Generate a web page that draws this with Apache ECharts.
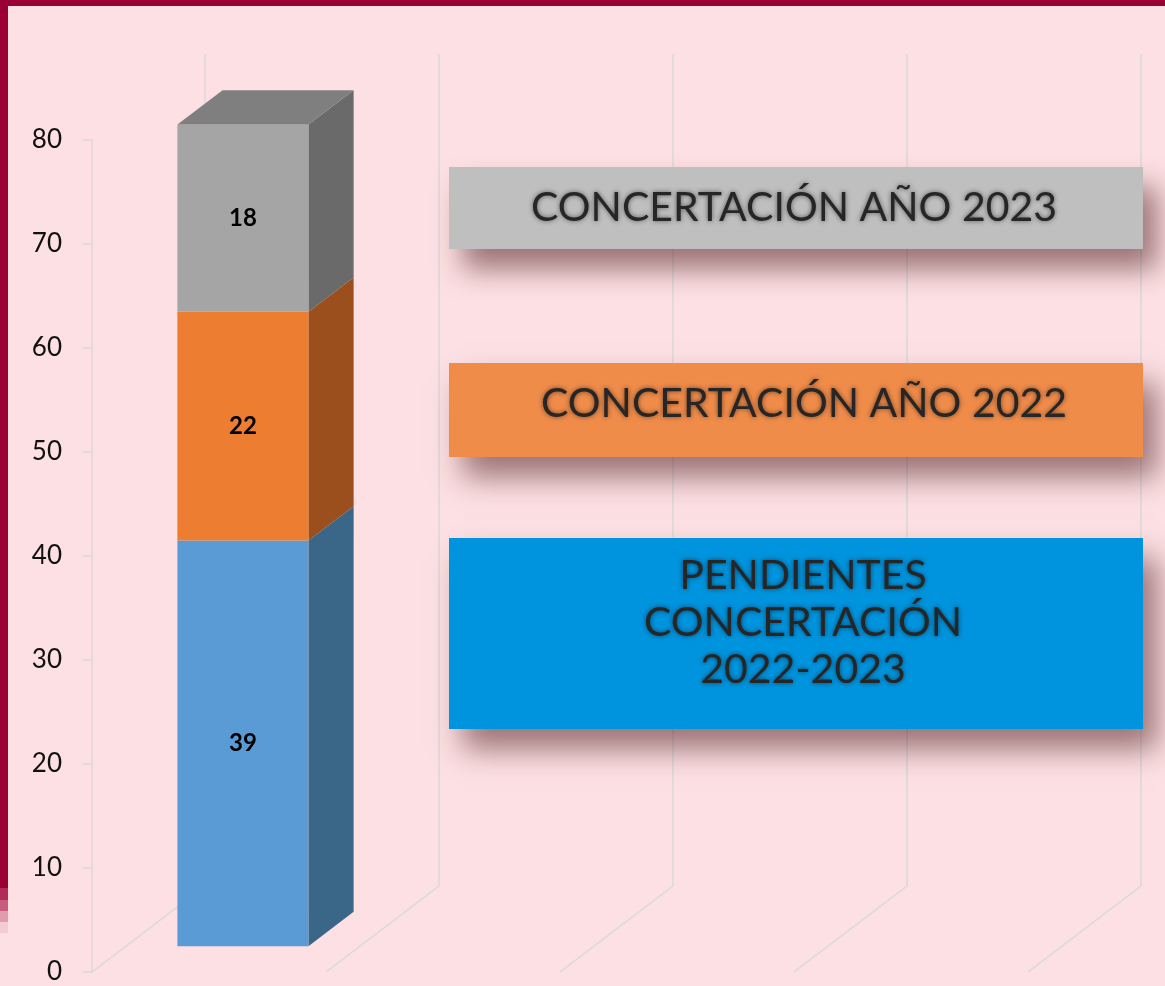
<!DOCTYPE html>
<html>
<head>
<meta charset="utf-8">
<script src="https://cdn.jsdelivr.net/npm/echarts@6/dist/echarts.min.js"></script>
<style>
html, body { margin: 0; padding: 0; background: #fde0e3; }
#main { width: 1165px; height: 986px; }
</style>
</head>
<body>
<div id="main"></div>
<script>
// datos
const categories = ['Concertación', '', '', ''];
const pendientes = [39];
const anio2022 = [22];
const anio2023 = [18];
const yTicks = [0, 10, 20, 30, 40, 50, 60, 70, 80];
const legendNames = ['CONCERTACIÓN AÑO 2023', 'CONCERTACIÓN AÑO 2022', 'PENDIENTES\nCONCERTACIÓN\n2022-2023'];

const DEPTH = [113, -86];   // profundidad del suelo en px
const BAR_FRONT = 0.3, BAR_BACK = 0.7, BAR_W = 0.56;
const FONT = 'Lato, "Open Sans", sans-serif';

const chart = echarts.init(document.getElementById('main'));

function boxRenderer(cols, withTop) {
    return function (params, api) {
        const lo = api.coord([api.value(0), api.value(1)]);
        const hi = api.coord([api.value(0), api.value(2)]);
        const band = api.size([1, 0])[0];
        const w = band * BAR_W;
        const x0 = lo[0] - w / 2 + DEPTH[0] * BAR_FRONT;
        const x1 = x0 + w;
        const yb = lo[1] + DEPTH[1] * BAR_FRONT;
        const yt = hi[1] + DEPTH[1] * BAR_FRONT;
        const ex = DEPTH[0] * (BAR_BACK - BAR_FRONT);
        const ey = DEPTH[1] * (BAR_BACK - BAR_FRONT);
        const children = [
            { type: 'polygon', shape: { points: [[x1, yb], [x1 + ex, yb + ey], [x1 + ex, yt + ey], [x1, yt]] }, style: { fill: cols.side } },
            { type: 'rect', shape: { x: x0, y: yt, width: w, height: yb - yt }, style: { fill: cols.front } }
        ];
        if (withTop) {
            children.push({ type: 'polygon', shape: { points: [[x0, yt], [x1, yt], [x1 + ex, yt + ey], [x0 + ex, yt + ey]] }, style: { fill: cols.top } });
        }
        children.push({
            type: 'text', x: (x0 + x1) / 2, y: (yb + yt) / 2,
            style: { text: String(api.value(3)), fill: '#000', font: 'bold 24px ' + FONT, align: 'center', verticalAlign: 'middle' }
        });
        return { type: 'group', children: children };
    };
}

const base2022 = pendientes;
const base2023 = pendientes.map((v, i) => v + anio2022[i]);

const option = {
    backgroundColor: '#fde0e3',
    animation: false,
    grid: [
        { left: 92, top: 140, width: 936, height: 832 },
        { left: 205, top: 54, width: 936, height: 832 }
    ],
    xAxis: [
        { type: 'category', gridIndex: 0, data: categories, axisLine: { show: false }, axisTick: { show: false }, axisLabel: { show: false } },
        {
            type: 'category', gridIndex: 1, data: categories, axisLine: { show: false }, axisTick: { show: false }, axisLabel: { show: false },
            splitLine: { show: true, lineStyle: { color: '#d9d9d9', width: 1.5 } }
        }
    ],
    yAxis: [
        {
            type: 'value', gridIndex: 0, min: yTicks[0], max: yTicks[yTicks.length - 1], interval: yTicks[1] - yTicks[0],
            axisLine: { show: true, lineStyle: { color: '#d9d9d9', width: 1.5 } },
            axisTick: { show: true, length: 10, lineStyle: { color: '#d9d9d9', width: 1.5 } },
            axisLabel: { color: '#111', fontSize: 26, fontFamily: FONT, margin: 30 },
            splitLine: { show: false }
        },
        { type: 'value', gridIndex: 1, min: yTicks[0], max: yTicks[yTicks.length - 1], show: false }
    ],
    series: [
        {
            name: 'Pendientes', type: 'custom', xAxisIndex: 0, yAxisIndex: 0, z: 5,
            renderItem: boxRenderer({ front: '#5b9bd5', side: '#3a6688', top: '#4a7fb0' }, false),
            data: pendientes.map((v, i) => [i, 0, v, v])
        },
        {
            name: '2022', type: 'custom', xAxisIndex: 0, yAxisIndex: 0, z: 5,
            renderItem: boxRenderer({ front: '#ed7d31', side: '#9a4f1d', top: '#c8692a' }, false),
            data: anio2022.map((v, i) => [i, base2022[i], base2022[i] + v, v])
        },
        {
            name: '2023', type: 'custom', xAxisIndex: 0, yAxisIndex: 0, z: 5,
            renderItem: boxRenderer({ front: '#a5a5a5', side: '#6a6a6a', top: '#7f7f7f' }, true),
            data: anio2023.map((v, i) => [i, base2023[i], base2023[i] + v, v])
        }
    ]
};
chart.setOption(option);

// suelo: diagonales desde el plano frontal al fondo
const c0 = chart.convertToPixel({ xAxisIndex: 0, yAxisIndex: 0 }, [0, 0]);
const c1 = chart.convertToPixel({ xAxisIndex: 0, yAxisIndex: 0 }, [1, 0]);
const bandPx = c1[0] - c0[0];
const floor = [];
for (let i = 0; i <= categories.length; i++) {
    const x = c0[0] - bandPx / 2 + i * bandPx;
    floor.push({
        type: 'line', z: 1,
        shape: { x1: x, y1: c0[1], x2: x + DEPTH[0], y2: c0[1] + DEPTH[1] },
        style: { stroke: '#d9d9d9', lineWidth: 1.5 }
    });
}

const shadow = { shadowBlur: 28, shadowOffsetX: 14, shadowOffsetY: 20, shadowColor: 'rgba(60,10,10,0.5)' };
const textStyle = { fill: '#262626', align: 'center', verticalAlign: 'middle', textShadowColor: 'rgba(0,0,0,0.55)', textShadowBlur: 5 };
const boxes = [
    { y: 167, h: 82, fill: '#bfbfbf', lines: [legendNames[0]], ty: 208, tx: 794, size: 41 },
    { y: 363, h: 94, fill: '#f08c4a', lines: [legendNames[1]], ty: 404, tx: 804, size: 41 },
    { y: 538, h: 191, fill: '#0094de', lines: legendNames[2].split('\n'), ty: 576, tx: 803, size: 41 }
];
const legendEls = [];
boxes.forEach(b => {
    legendEls.push({ type: 'rect', z: 10, shape: { x: 449, y: b.y, width: 694, height: b.h }, style: Object.assign({ fill: b.fill }, shadow) });
    b.lines.forEach((t, k) => {
        legendEls.push({
            type: 'text', z: 11, x: b.tx, y: b.ty + k * 47,
            style: Object.assign({ text: t, font: b.size + 'px ' + FONT }, textStyle)
        });
    });
});

const frame = [
    { type: 'rect', z: 20, shape: { x: 0, y: 0, width: 1165, height: 6 }, style: { fill: '#9b0034' } },
    { type: 'rect', z: 20, shape: { x: 0, y: 0, width: 8, height: 888 }, style: { fill: '#9b0034' } },
    { type: 'rect', z: 20, shape: { x: 0, y: 888, width: 8, height: 12 }, style: { fill: '#b02d5a' } },
    { type: 'rect', z: 20, shape: { x: 0, y: 900, width: 8, height: 11 }, style: { fill: '#c85c7c' } },
    { type: 'rect', z: 20, shape: { x: 0, y: 911, width: 8, height: 11 }, style: { fill: '#e09cae' } },
    { type: 'rect', z: 20, shape: { x: 0, y: 922, width: 8, height: 11 }, style: { fill: '#f3cbd3' } }
];

chart.setOption({ graphic: floor.concat(legendEls, frame) });
</script>
</body>
</html>
